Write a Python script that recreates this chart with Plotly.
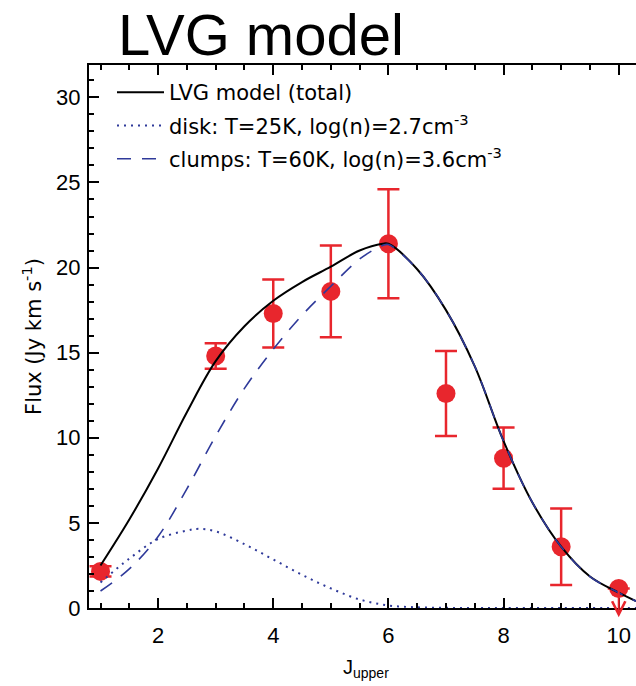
import plotly.graph_objects as go

# ---- data ----
j_obs = [1, 3, 4, 5, 6, 7, 8, 9, 10]
flux_obs = [2.15, 14.8, 17.3, 18.6, 21.4, 12.6, 8.8, 3.6, 1.15]
flux_err = [0.3, 0.75, 2.0, 2.7, 3.2, 2.5, 1.8, 2.25, 0.0]

j_limit = [10]
limit_from = [1.15]
limit_to = [-0.55]

j_total = [1, 1.5, 2, 2.5, 3, 3.5, 4, 4.5, 5, 5.5, 5.9, 6, 6.5, 7, 7.5, 8, 8.5, 9, 9.5, 10, 10.3]
flux_total = [2.5, 5.2, 8.2, 11.5, 14.5, 16.55, 18.05, 19.15, 20.05, 21.0, 21.4, 21.4,
              19.9, 17.5, 14.2, 9.8, 6.2, 3.6, 1.85, 0.9, 0.4]

j_disk = [1, 1.5, 2, 2.5, 2.7, 3, 3.5, 4, 4.5, 5, 5.5, 6, 6.5, 7, 7.5, 8, 9, 10, 10.3]
flux_disk = [1.5, 2.9, 4.05, 4.55, 4.65, 4.5, 3.75, 2.85, 1.95, 1.15, 0.5, 0.15, 0.04,
             0.01, 0.0, 0.0, 0.0, 0.0, 0.0]

j_clumps = [1, 1.5, 2, 2.5, 3, 3.5, 4, 4.5, 5, 5.5, 5.9, 6, 6.5, 7, 7.5, 8, 8.5, 9, 9.5, 10, 10.3]
flux_clumps = [1.0, 2.3, 4.2, 7.0, 10.1, 12.9, 15.2, 17.2, 18.9, 20.5, 21.3, 21.35,
               19.9, 17.5, 14.2, 9.8, 6.2, 3.6, 1.85, 0.9, 0.4]

legend_names = ["LVG model (total)",
                "disk: T=25K, log(n)=2.7cm<sup>-3</sup>",
                "clumps: T=60K, log(n)=3.6cm<sup>-3</sup>"]

RED = "#e8262d"
BLUE = "#2f3a9a"
TICKFONT = dict(family="Liberation Sans, Arial, sans-serif", size=22, color="black")

fig = go.Figure()

fig.add_trace(go.Scatter(
    x=j_obs, y=flux_obs, mode="markers", showlegend=False,
    marker=dict(color=RED, size=19, line=dict(width=0)),
    error_y=dict(type="data", array=flux_err, visible=True, color=RED,
                 thickness=2.5, width=11),
    cliponaxis=False,
))

fig.add_trace(go.Scatter(
    x=j_total, y=flux_total, mode="lines", name=legend_names[0], legendgroup="a",
    line=dict(color="black", width=2, shape="spline", smoothing=1.0),
))
fig.add_trace(go.Scatter(
    x=j_disk, y=flux_disk, mode="lines", name=legend_names[1], legendgroup="b",
    line=dict(color=BLUE, width=2, dash="2px,5px", shape="spline", smoothing=1.0),
))
fig.add_trace(go.Scatter(
    x=j_clumps, y=flux_clumps, mode="lines", name=legend_names[2], legendgroup="c",
    line=dict(color=BLUE, width=1.6, dash="14px,11px", shape="spline", smoothing=1.0),
))

for xj, y0, y1 in zip(j_limit, limit_from, limit_to):
    fig.add_annotation(x=xj, y=y1, ax=xj, ay=y0, xref="x", yref="y",
                       axref="x", ayref="y", text="", showarrow=True,
                       arrowhead=5, arrowsize=1.3, arrowwidth=2, arrowcolor=RED)

fig.add_annotation(
    text="J<sub>upper</sub>", xref="paper", yref="paper",
    x=(366 - 89) / 547, y=-(668 - 608) / 543, xanchor="center", yanchor="middle",
    showarrow=False, font=dict(family="Liberation Sans, Arial, sans-serif", size=20, color="black"),
)

fig.update_layout(
    width=636, height=686,
    margin=dict(l=89, r=0, t=65, b=78),
    paper_bgcolor="white", plot_bgcolor="white",
    title=dict(text="LVG model", x=118 / 636, xref="container", xanchor="left",
               y=1 - 35 / 686, yref="container", yanchor="middle",
               font=dict(family="Liberation Sans, Arial, sans-serif", size=58, color="black")),
    legend=dict(x=(112 - 89) / 547, y=1 - (72 - 65) / 543, xanchor="left", yanchor="top",
                bgcolor="rgba(0,0,0,0)", borderwidth=0,
                font=dict(family="DejaVu Sans, sans-serif", size=21, color="black"),
                tracegroupgap=3, itemwidth=47),
    xaxis=dict(range=[0.8, 10.3], tickmode="linear", tick0=0, dtick=2,
               ticks="inside", ticklen=10, tickwidth=1.5, tickcolor="black",
               showline=True, linewidth=2, linecolor="black", mirror="ticks",
               showgrid=False, zeroline=False, tickfont=TICKFONT,
               ticklabelstandoff=7,
               minor=dict(dtick=0.5, tick0=0, ticks="inside", ticklen=5,
                          tickwidth=1.5, tickcolor="black", showgrid=False)),
    yaxis=dict(range=[0, 31.9], tickmode="linear", tick0=0, dtick=5,
               ticks="inside", ticklen=10, tickwidth=1.5, tickcolor="black",
               showline=True, linewidth=2, linecolor="black", mirror=False,
               showgrid=False, zeroline=False, tickfont=TICKFONT,
               ticklabelstandoff=2,
               title=dict(text="Flux (Jy km s<sup>-1</sup>)", standoff=9,
                          font=dict(family="DejaVu Sans, sans-serif", size=21, color="black")),
               minor=dict(dtick=1, tick0=0, ticks="inside", ticklen=5,
                          tickwidth=1.5, tickcolor="black", showgrid=False)),
)

fig.write_html("out.html")
